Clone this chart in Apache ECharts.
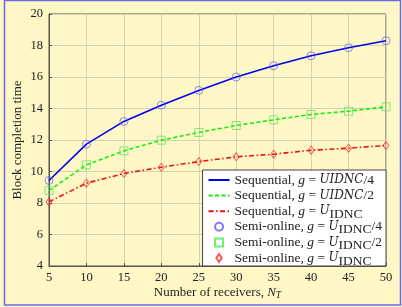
<!DOCTYPE html>
<html><head><meta charset="utf-8">
<script src="https://cdn.jsdelivr.net/npm/echarts@6/dist/echarts.min.js"></script>
<style>html,body{margin:0;padding:0;background:#fff8c6;}#c{width:402px;height:307px;}</style>
</head><body><div id="c"></div>
<script>
const receivers = [5, 10, 15, 20, 25, 30, 35, 40, 45, 50];
const seqQuarter = [9.43, 11.74, 13.18, 14.21, 15.15, 16.0, 16.72, 17.35, 17.86, 18.3];
const seqHalf = [8.79, 10.42, 11.31, 11.99, 12.48, 12.92, 13.28, 13.62, 13.83, 14.11];
const seqFull = [8.07, 9.26, 9.87, 10.27, 10.63, 10.93, 11.1, 11.35, 11.48, 11.65];
const semiQuarter = [9.43, 11.74, 13.18, 14.21, 15.15, 16.0, 16.72, 17.35, 17.86, 18.3];
const semiHalf = [8.79, 10.42, 11.31, 11.99, 12.48, 12.92, 13.28, 13.62, 13.83, 14.11];
const semiFull = [8.07, 9.26, 9.87, 10.27, 10.63, 10.93, 11.1, 11.35, 11.48, 11.65];
const seriesNames = ['s1','s2','s3','s4','s5','s6'];
const legendTexts = {
  s1: 'Sequential, {i|g} {e|=} {m|UIDNC}/4',
  s2: 'Sequential, {i|g} {e|=} {m|UIDNC}/2',
  s3: 'Sequential, {i|g} {e|=} {m|U}{sub|IDNC}',
  s4: 'Semi-online, {i|g} {e|=} {m|U}{sub|IDNC}/4',
  s5: 'Semi-online, {i|g} {e|=} {m|U}{sub|IDNC}/2',
  s6: 'Semi-online, {i|g} {e|=} {m|U}{sub|IDNC}'
};
const xName = 'Number of receivers, {i|N}{subi|T}';
const yName = 'Block completion time';

function pairs(arr){ return receivers.map((x,i)=>[x,arr[i]]); }
const FONT = 'Liberation Serif';
const LFS = 13.5;
const LH = 20;
const chart = echarts.init(document.getElementById('c'), null, {renderer:'canvas'});
chart.setOption({
  backgroundColor: '#fff8c6',
  animation: false,
  graphic: [{type:'rect', shape:{x:4.5,y:0.5,width:396,height:304.5}, style:{fill:'none', stroke:'#6a6ae8', lineWidth:1.5}, z:100}],
  grid: {left:49, right:16, top:14, bottom:41, show:true, borderColor:'#555', borderWidth:1, backgroundColor:'transparent'},
  xAxis: {
    type:'value', min:5, max:50, interval:5,
    name: xName, nameLocation:'middle', nameGap:19, nameMoveOverlap:false,
    nameTextStyle:{fontFamily:FONT, fontSize:13, color:'#222', rich:{i:{fontStyle:'italic', fontFamily:FONT, fontSize:13}, subi:{fontStyle:'italic', fontFamily:FONT, fontSize:9.5, padding:[5,0,0,0]}}},
    axisLine:{show:true, lineStyle:{color:'#555'}},
    axisTick:{show:true, inside:true, length:3, lineStyle:{color:'#555'}},
    axisLabel:{fontFamily:FONT, fontSize:12.5, color:'#222', margin:5},
    splitLine:{show:true, lineStyle:{color:'#d6d2b4', width:1}}
  },
  yAxis: {
    type:'value', min:4, max:20, interval:2,
    name: yName, nameLocation:'middle', nameGap:25, nameRotate:90, nameMoveOverlap:false,
    nameTextStyle:{fontFamily:FONT, fontSize:13, color:'#222'},
    axisLine:{show:true, lineStyle:{color:'#555'}},
    axisTick:{show:true, inside:true, length:3, lineStyle:{color:'#555'}},
    axisLabel:{fontFamily:FONT, fontSize:12.5, color:'#222', margin:6},
    splitLine:{show:true, lineStyle:{color:'#d6d2b4', width:1}}
  },
  legend: {
    orient:'vertical', right:16, bottom:41, z:10,
    backgroundColor:'#fff', borderColor:'#444', borderWidth:1, borderRadius:0,
    padding:[0,4,-2,5], itemGap:-4.4, itemWidth:21, itemHeight:8,
    data: [
      {name:'s1', itemStyle:{opacity:0}},
      {name:'s2', itemStyle:{opacity:0}},
      {name:'s3', itemStyle:{opacity:0}},
      {name:'s4'},
      {name:'s5', icon:'path://M0,0L10,0L10,10L0,10Z'},
      {name:'s6', icon:'path://M4,0L8,6L4,12L0,6Z'}
    ],
    formatter: n => legendTexts[n],
    textStyle:{fontFamily:FONT, fontSize:LFS, color:'#222', lineHeight:LH,
      rich:{
        i:{fontStyle:'italic', fontFamily:FONT, fontSize:LFS, lineHeight:LH},
        e:{fontFamily:FONT, fontSize:LFS, lineHeight:LH},
        m:{fontStyle:'italic', fontFamily:'DejaVu Serif', fontSize:12, lineHeight:LH},
        sub:{fontFamily:FONT, fontSize:LFS, padding:[6,0,0,0]}
      }}
  },
  series: [
    {name:'s1', type:'line', data:pairs(seqQuarter), symbol:'none', lineStyle:{color:'#0000f0', width:1.6}, itemStyle:{color:'#0000f0'}, z:2},
    {name:'s2', type:'line', data:pairs(seqHalf), symbol:'none', lineStyle:{color:'#10f010', width:1.6, type:[4,2.5]}, itemStyle:{color:'#10f010'}, z:2},
    {name:'s3', type:'line', data:pairs(seqFull), symbol:'none', lineStyle:{color:'#f01010', width:1.6, type:[5,2.5,1.5,2.5]}, itemStyle:{color:'#f01010'}, z:2},
    {name:'s4', type:'scatter', data:pairs(semiQuarter), symbol:'circle', symbolSize:8, itemStyle:{color:'rgba(0,0,0,0)', borderColor:'#5b5bf5', borderWidth:0.9}, z:3},
    {name:'s5', type:'scatter', data:pairs(semiHalf), symbol:'rect', symbolSize:8, itemStyle:{color:'rgba(0,0,0,0)', borderColor:'#4fe84f', borderWidth:0.9}, z:3},
    {name:'s6', type:'scatter', data:pairs(semiFull), symbol:'diamond', symbolSize:[6,8], itemStyle:{color:'rgba(0,0,0,0)', borderColor:'#f03030', borderWidth:0.9}, z:3}
  ]
});
</script></body></html>
